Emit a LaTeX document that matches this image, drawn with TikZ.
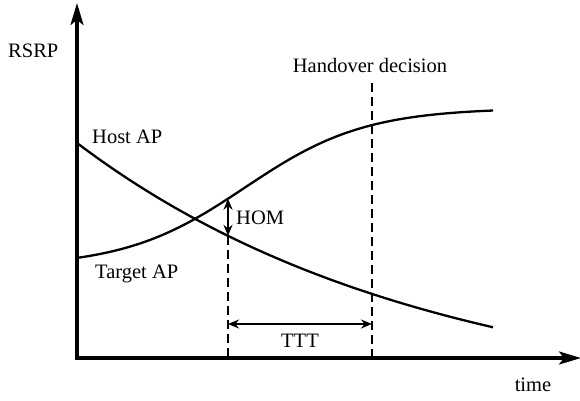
\documentclass[tikz,border=0pt]{standalone}
\usepackage{fontspec}
\setmainfont{Liberation Serif}
\usetikzlibrary{arrows.meta}
\begin{document}
\begin{tikzpicture}[x=1pt,y=-1pt,
  lbl/.style={inner sep=0pt,font=\fontsize{20.5}{24}\selectfont},
  axisline/.style={line width=3.2pt,{Stealth[length=22pt,width=13pt,inset=5pt]}-{Stealth[length=22pt,width=13pt,inset=5pt]}},
  curve/.style={line width=2.3pt},
  guide/.style={line width=2.6pt,dash pattern=on 9pt off 5pt},
  dimarrow/.style={line width=1.9pt,{Stealth[length=11pt,width=9pt]}-{Stealth[length=11pt,width=9pt]}},
  declare function={hostf(\x)=143+265*(1-exp(-(\x-77)/350));
                    targf(\x)=108+159/(1+exp((\x-245)/60));}]
\useasboundingbox (0,0) rectangle (580,400);
% axes
\coordinate (O) at (77,358);
\coordinate (Ytop) at (77,3);
\coordinate (Xend) at (581,358);
\draw[axisline] (Ytop) -- (O) -- (Xend);
% curves
\draw[curve] plot[domain=77:493,samples=120,smooth] (\x,{hostf(\x)});
\draw[curve] plot[domain=77:493,samples=120,smooth] (\x,{targf(\x)});
% key points
\coordinate (hT) at (228,{targf(228)});
\coordinate (hH) at (228,{hostf(228)});
\coordinate (hB) at (228,358);
\coordinate (dT) at (372,83);
\coordinate (dB) at (372,358);
\coordinate (tL) at (228,324);
\coordinate (tR) at (372,324);
% guides
\draw[guide] (hH) -- (hB);
\draw[guide] (dT) -- (dB);
% dimension arrows
\draw[dimarrow] (hT) -- (hH);
\draw[dimarrow] (tL) -- (tR);
% labels
\node[lbl,anchor=base west] (rsrp) at (8,57) {RSRP};
\node[lbl,anchor=base] (hod) at (370,72) {Handover decision};
\node[lbl,anchor=base west] (host) at (92,143) {Host AP};
\node[lbl,anchor=base west] (targ) at (95,278) {Target AP};
\node[lbl,anchor=base west] (hom) at (236,224) {HOM};
\node[lbl,anchor=base] (ttt) at (300,347) {TTT};
\node[lbl,anchor=base] (time) at (533,391) {time};
\end{tikzpicture}
\end{document}
